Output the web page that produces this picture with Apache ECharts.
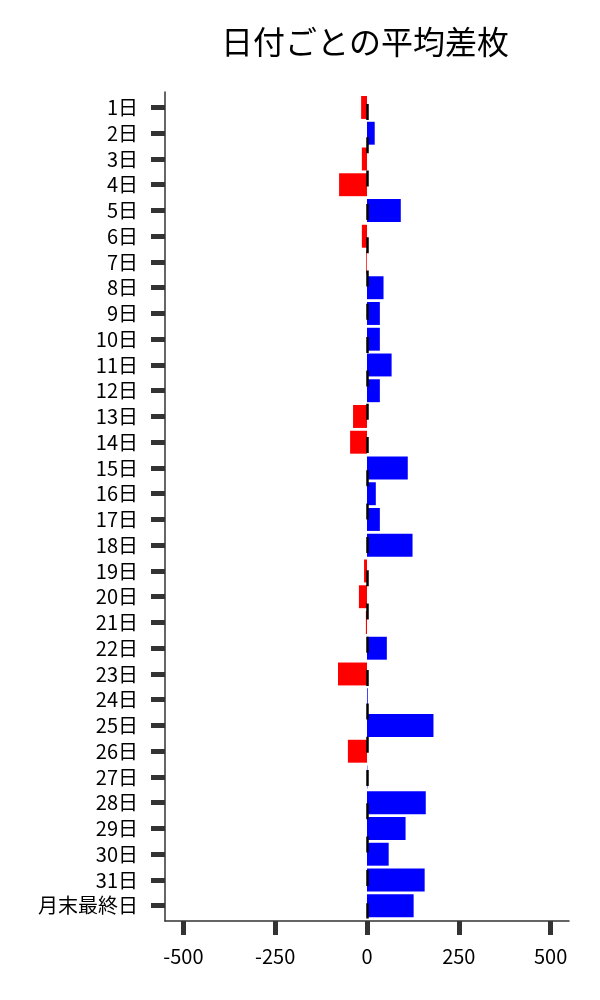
<!DOCTYPE html>
<html>
<head>
<meta charset="utf-8">
<script src="https://cdn.jsdelivr.net/npm/echarts@6/dist/echarts.min.js"></script>
<style>
html,body{margin:0;padding:0;background:#fff;}
#chart{width:600px;height:1000px;}
</style>
</head>
<body>
<div id="chart"></div>
<script>
const titleText = '日付ごとの平均差枚';
const categories = ['1日','2日','3日','4日','5日','6日','7日','8日','9日','10日','11日','12日','13日','14日','15日','16日','17日','18日','19日','20日','21日','22日','23日','24日','25日','26日','27日','28日','29日','30日','31日','月末最終日'];
const avgDiff = [-16, 21, -14, -76, 92, -14, -2, 45, 35, 35, 67, 35, -38, -46, 111, 24, 35, 124, -8, -22, -3, 54, -79, 2, 181, -52, 1, 160, 105, 59, 157, 127];
const xTicks = [-500, -250, 0, 250, 500];
const xMin = -550, xMax = 550;
const posColor = '#0000ff', negColor = '#ff0000';

const chart = echarts.init(document.getElementById('chart'), null, {renderer:'canvas'});
const font = '"Noto Sans CJK JP", "Noto Sans", sans-serif';
const axisColor = '#333';
chart.setOption({
  animation: false,
  backgroundColor: '#fff',
  title: {
    text: titleText,
    left: 360, top: 21, textAlign: 'center',
    textStyle: {fontFamily: font, fontSize: 32, fontWeight: 'normal', color: '#000'}
  },
  grid: [
    {left: 165, right: 31, top: 94.6, bottom: 81.4, containLabel: false},
    {left: 165, right: 31, top: 92, bottom: 79, containLabel: false}
  ],
  xAxis: [{
    gridIndex: 0, type: 'value', min: xMin, max: xMax, show: false
  }, {
    gridIndex: 1, type: 'value', min: xMin, max: xMax,
    splitLine: {show: false},
    axisLine: {show: true, onZero: false, lineStyle: {color: axisColor, width: 1.5}},
    axisTick: {show: true, customValues: xTicks, length: 14, lineStyle: {color: axisColor, width: 5}},
    axisLabel: {customValues: xTicks, margin: 25, fontFamily: font, fontSize: 20, color: '#000'}
  }],
  yAxis: [{
    gridIndex: 0, type: 'category', data: categories, inverse: true,
    axisLine: {show: false, onZero: false},
    axisTick: {show: true, interval: 0, alignWithLabel: true, length: 14, lineStyle: {color: axisColor, width: 5}},
    axisLabel: {interval: 0, margin: 27, fontFamily: font, fontSize: 20, color: '#000'},
    splitLine: {show: false}
  }, {
    gridIndex: 1, type: 'value', min: 0, max: 1,
    axisLine: {show: true, onZero: false, lineStyle: {color: axisColor, width: 1.5}},
    axisTick: {show: false}, axisLabel: {show: false}, splitLine: {show: false}
  }],
  series: [{
    type: 'bar',
    xAxisIndex: 0, yAxisIndex: 0,
    data: avgDiff,
    barCategoryGap: '11%',
    itemStyle: {color: p => p.value >= 0 ? posColor : negColor},
    markLine: {
      silent: true, symbol: 'none', label: {show: false},
      lineStyle: {color: '#000', type: [16, 17.3], dashOffset: 23.9, width: 2.5},
      data: [{xAxis: 0}]
    }
  }]
});
</script>
</body>
</html>
